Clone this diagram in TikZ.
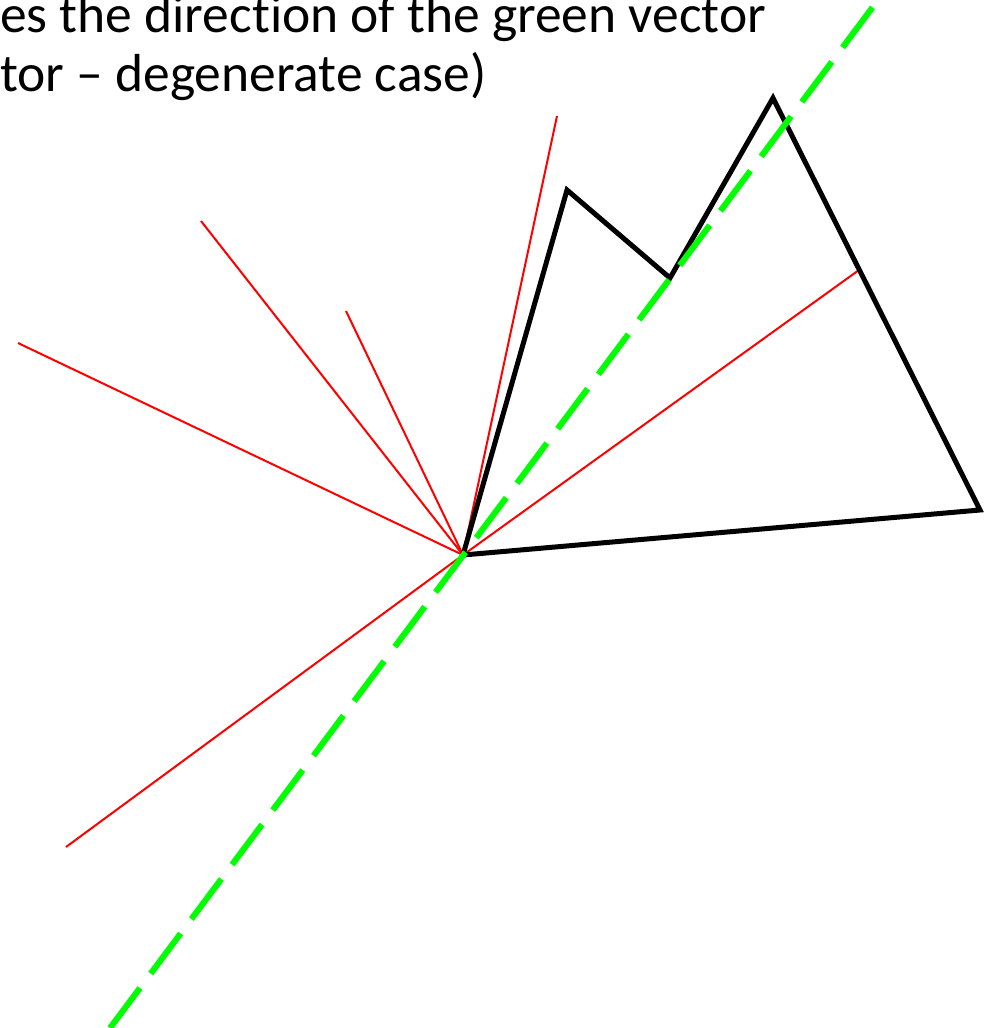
\documentclass[tikz,border=0pt]{standalone}
\usepackage{fontspec}
\setmainfont[Ligatures=NoCommon]{Carlito}
\begin{document}
\begin{tikzpicture}[x=1pt,y=-1pt,
  ray/.style={red, line width=2pt},
  hull/.style={black, line width=5pt, line join=miter},
  dir/.style={green, line width=6pt, dash pattern=on 50pt off 18pt},
  caption/.style={anchor=base west, inner sep=0pt, font=\fontsize{53.5}{66}\selectfont}]
  \useasboundingbox (0,0) rectangle (989,1028);

  % text, cut at the left edge
  \node[caption] (line1) at (0,32) {es the direction of the green vector};
  \node[caption] (line2) at (0,91) {tor – degenerate case)};

  % centre and polygon corners
  \coordinate (o) at (463,555);
  \coordinate (p1) at (567,190);
  \coordinate (p2) at (670,278);
  \coordinate (p3) at (773,98);
  \coordinate (p4) at (980,510);

  % red rays
  \coordinate (r1) at (18,343);
  \coordinate (r2) at (201,221);
  \coordinate (r3) at (346,311);
  \coordinate (r4) at (557,116);
  \coordinate (r5) at (859,270);
  \coordinate (r6) at (66,847);
  \foreach \r in {r1,r2,r3,r4,r5,r6}
    \draw[ray] (o) -- (\r);

  % black polygon
  \draw[hull] (o) -- (p1) -- (p2) -- (p3) -- (p4) -- cycle;

  % green direction
  \coordinate (g1) at (110,1028);
  \coordinate (g2) at (875,4);
  \draw[dir] (g1) -- (g2);
\end{tikzpicture}
\end{document}
